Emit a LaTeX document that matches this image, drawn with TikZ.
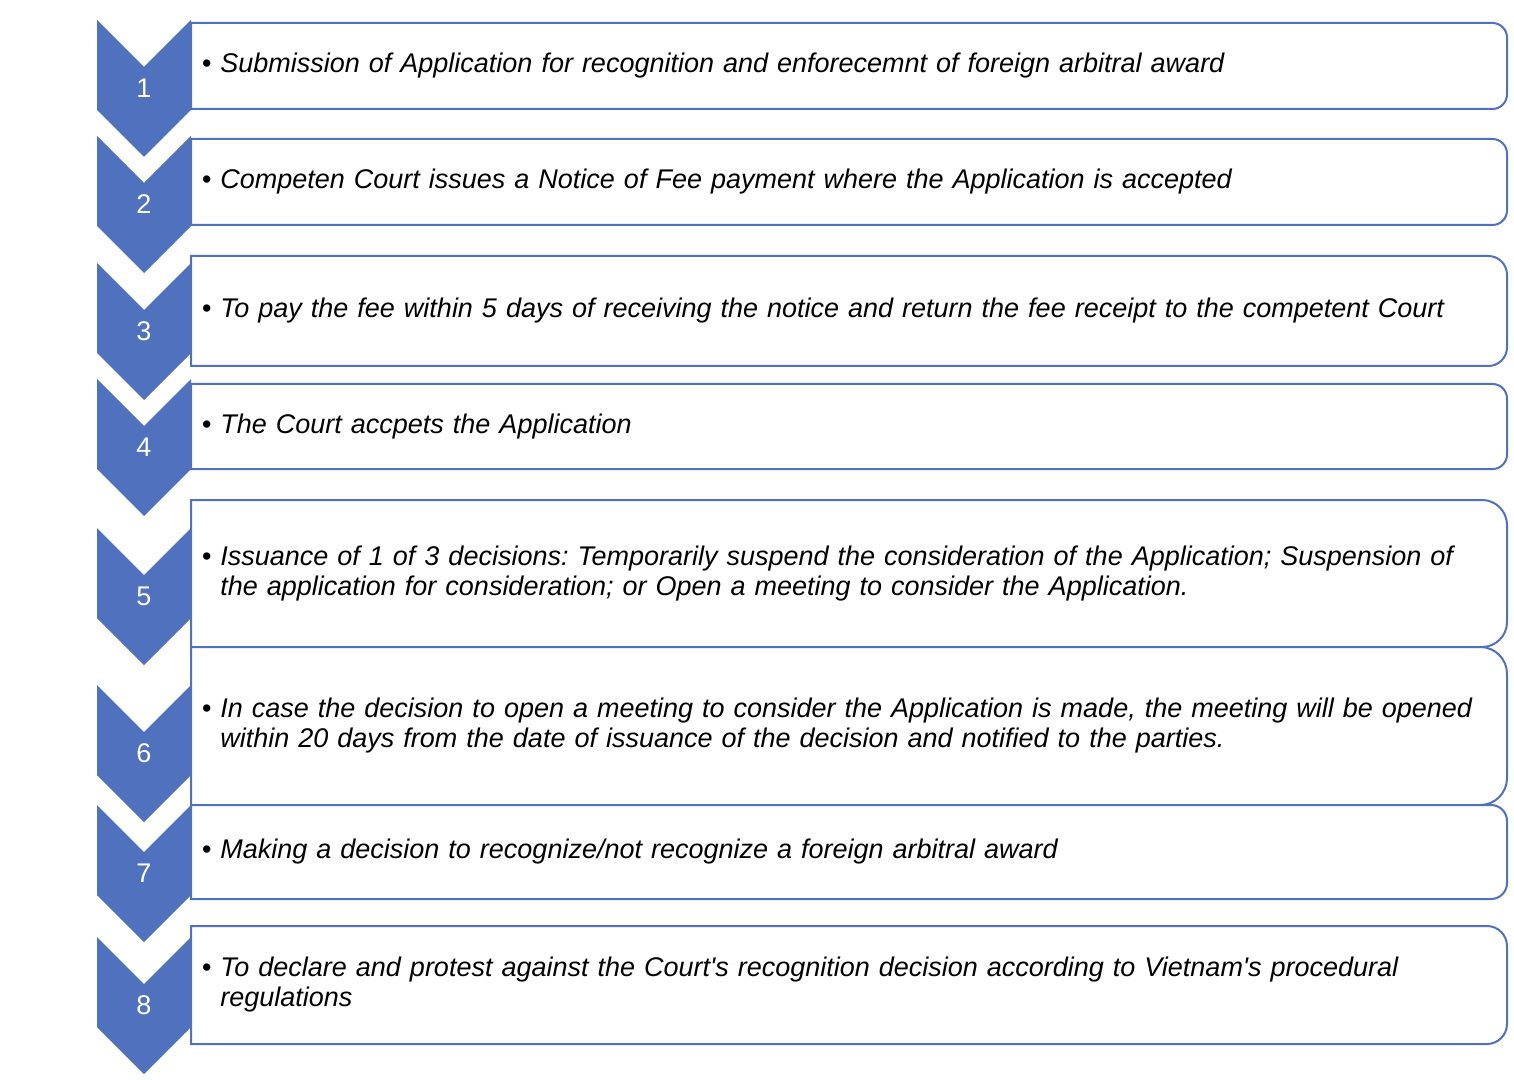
\documentclass[tikz,border=0pt]{standalone}
\usepackage{fontspec}
\setmainfont{Liberation Sans}
\usetikzlibrary{calc}
\definecolor{stepblue}{HTML}{4F71BE}
\hyphenpenalty=10000
\exhyphenpenalty=10000
\frenchspacing
\tikzset{
    step-chevron/.style = {fill=stepblue, draw=none},
    step-num/.style = {text=white, inner sep=0pt, font=\fontsize{13.5}{13.5}\selectfont},
    step-frame/.style = {draw=stepblue, line width=1pt, fill=white},
    step-text/.style = {anchor=west, text width=632pt, align=left, inner sep=0pt,
        font=\fontsize{13.5}{15}\selectfont\itshape},
}

\begin{document}
\begin{tikzpicture}[x=0.5pt, y=0.5pt]
\useasboundingbox (0,0) rectangle (1514,-1080);
% chevron top / box top / box bottom / text
\foreach \n/\ct/\bt/\bb/\txt in {
    1/20/23/109/{Submission of Application for recognition and enforecemnt of foreign arbitral award},
    2/136/139/225/{Competen Court issues a Notice of Fee payment where the Application is accepted},
    3/263/256/366/{To pay the fee within 5 days of receiving the notice and return the fee receipt to the competent Court},
    4/379/384/469/{The Court accpets the Application},
    5/528/500/647/{Issuance of 1 of 3 decisions: Temporarily suspend the consideration of the Application; Suspension of the application for consideration; or Open a meeting to consider the Application.},
    6/685/647/805/{In case the decision to open a meeting to consider the Application is made, the meeting will be opened within 20 days from the date of issuance of the decision and notified to the parties.},
    7/805/805/899/{Making a decision to recognize/not recognize a foreign arbitral award},
    8/937/926/1044/{To declare and protest against the Court\textquotesingle s recognition decision according to Vietnam\textquotesingle s procedural regulations}}{
    \pgfmathsetmacro\rad{0.085*(\bb-\bt)}
    \coordinate (box\n-nw) at (191,-\bt);
    \coordinate (box\n-se) at (1507,-\bb);
    \draw[step-frame] (box\n-nw |- box\n-se) -- (box\n-nw)
        -- ($(box\n-nw -| box\n-se)+(-\rad pt,0)$) arc[start angle=90, end angle=0, radius=\rad pt]
        -- ($(box\n-se)+(0,\rad pt)$) arc[start angle=0, end angle=-90, radius=\rad pt] -- cycle;
    \node[step-text] (text\n) at (220,{-(\bt+\bb)/2}) {\llap{\textbullet\ }\txt};
    % chevron
    \fill[step-chevron] (97,-\ct) -- (144,{-\ct-47}) -- (191,-\ct) -- (191,{-\ct-90})
        -- (144,{-\ct-137}) -- (97,{-\ct-90}) -- cycle;
    \node[step-num] (num\n) at (144,{-\ct-68}) {\n};
}
\end{tikzpicture}
\end{document}
